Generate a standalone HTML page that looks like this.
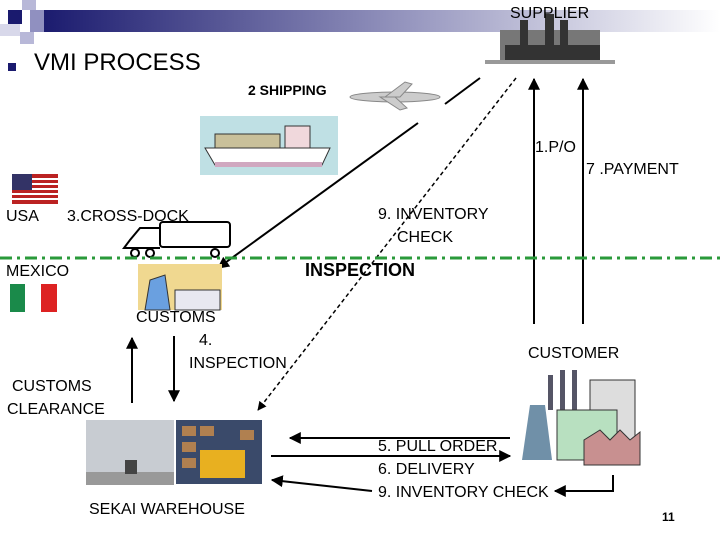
<!DOCTYPE html>
<html><head><meta charset="utf-8"><style>
body{margin:0;background:#fff}
svg{display:block}
text{font-family:"Liberation Sans",sans-serif;fill:#000}
</style></head><body>
<svg width="720" height="540" viewBox="0 0 720 540" xmlns="http://www.w3.org/2000/svg">
<defs>
<linearGradient id="g" x1="0" x2="1"><stop offset="0" stop-color="#1a1a6e"/><stop offset="0.55" stop-color="#9898c0"/><stop offset="1" stop-color="#fff"/></linearGradient>
<marker id="a" viewBox="0 0 10 10" refX="9" refY="5" markerWidth="6" markerHeight="6" orient="auto"><path d="M0,0L10,5L0,10z" fill="#000"/></marker>
</defs>
<rect x="40" y="10" width="680" height="22" fill="url(#g)"/>
<rect x="8" y="10" width="14" height="14" fill="#1a1a6e"/>
<rect x="22" y="0" width="14" height="10" fill="#b8b8d8"/>
<rect x="30" y="10" width="14" height="22" fill="#9090c0"/>
<rect x="20" y="32" width="14" height="12" fill="#b8b8d8"/>
<rect x="0" y="24" width="20" height="12" fill="#d8d8ea"/>
<rect x="8" y="63" width="8" height="8" fill="#1a1a6e"/>
<text x="34" y="70" font-size="24">VMI PROCESS</text>
<g fill="#333"><rect x="500" y="30" width="100" height="32" fill="#777"/><rect x="520" y="20" width="8" height="30"/><rect x="545" y="14" width="9" height="36"/><rect x="560" y="20" width="8" height="30"/><rect x="505" y="45" width="95" height="17"/><rect x="485" y="60" width="130" height="4" fill="#999"/></g>
<text x="510" y="18" font-size="16">SUPPLIER</text>
<text x="248" y="95" font-size="14" font-weight="bold">2 SHIPPING</text>
<g fill="#ccc" stroke="#888" stroke-width="1"><ellipse cx="395" cy="97" rx="45" ry="5"/><path d="M385,97L405,82L412,84L400,97z"/><path d="M380,97L400,110L407,108L395,97z"/></g>
<rect x="200" y="116" width="138" height="59" fill="#bfe0e4"/>
<path d="M205,148L330,148L322,165L215,165z" fill="#fff" stroke="#333"/>
<rect x="215" y="134" width="65" height="14" fill="#c9c09a" stroke="#333"/>
<rect x="285" y="126" width="25" height="22" fill="#f0d8dc" stroke="#333"/>
<rect x="215" y="162" width="107" height="5" fill="#d0a8c0"/>
<line x1="480" y1="78" x2="445" y2="104" stroke="#000" stroke-width="2"/>
<line x1="418" y1="123" x2="218" y2="268" stroke="#000" stroke-width="2" marker-end="url(#a)"/>
<line x1="516" y1="78" x2="258" y2="410" stroke="#000" stroke-width="1.5" stroke-dasharray="4,3" marker-end="url(#a)"/>
<line x1="534" y1="324" x2="534" y2="79" stroke="#000" stroke-width="2" marker-end="url(#a)"/>
<line x1="583" y1="324" x2="583" y2="79" stroke="#000" stroke-width="2" marker-end="url(#a)"/>
<text x="535" y="152" font-size="16">1.P/O</text>
<text x="586" y="174" font-size="16">7 .PAYMENT</text>
<g><rect x="12" y="174" width="46" height="30" fill="#b22"/><g fill="#fff"><rect x="12" y="178" width="46" height="2"/><rect x="12" y="183" width="46" height="2"/><rect x="12" y="188" width="46" height="2"/><rect x="12" y="193" width="46" height="2"/><rect x="12" y="198" width="46" height="2"/></g><rect x="12" y="174" width="20" height="16" fill="#336"/></g>
<text x="6" y="221" font-size="16">USA</text>
<text x="67" y="221" font-size="16">3.CROSS-DOCK</text>
<text x="378" y="219" font-size="16">9. INVENTORY</text>
<text x="397" y="242" font-size="16">CHECK</text>
<g fill="none" stroke="#000" stroke-width="2"><rect x="160" y="222" width="70" height="25" rx="3"/><path d="M160,228L140,228L130,240L124,248L160,248"/><circle cx="135" cy="253" r="4"/><circle cx="150" cy="253" r="4"/><circle cx="215" cy="253" r="4"/></g>
<line x1="0" y1="258" x2="720" y2="258" stroke="#2a9a3a" stroke-width="3" stroke-dasharray="12,5,3,5"/>
<text x="6" y="276" font-size="16">MEXICO</text>
<text x="305" y="276" font-size="18" font-weight="bold">INSPECTION</text>
<rect x="138" y="264" width="84" height="46" fill="#f0d890"/>
<path d="M145,310L150,280L165,275L170,310z" fill="#6aa0e0" stroke="#333"/>
<rect x="175" y="290" width="45" height="20" fill="#e8e8f0" stroke="#333"/>
<rect x="10" y="284" width="15" height="28" fill="#1a8a4a"/><rect x="25" y="284" width="16" height="28" fill="#fff"/><rect x="41" y="284" width="16" height="28" fill="#d22"/>
<text x="136" y="322" font-size="16">CUSTOMS</text>
<text x="199" y="345" font-size="16">4.</text>
<text x="189" y="368" font-size="16">INSPECTION</text>
<line x1="132" y1="403" x2="132" y2="338" stroke="#000" stroke-width="2" marker-end="url(#a)"/>
<line x1="174" y1="336" x2="174" y2="401" stroke="#000" stroke-width="2" marker-end="url(#a)"/>
<text x="12" y="391" font-size="16">CUSTOMS</text>
<text x="7" y="414" font-size="16">CLEARANCE</text>
<text x="528" y="358" font-size="16">CUSTOMER</text>
<rect x="86" y="420" width="88" height="65" fill="#c8ccd2"/><rect x="86" y="472" width="88" height="13" fill="#999"/><rect x="125" y="460" width="12" height="14" fill="#444"/>
<rect x="176" y="420" width="86" height="64" fill="#3a4a6a"/>
<g fill="#b08050"><rect x="182" y="426" width="14" height="10"/><rect x="200" y="426" width="14" height="10"/><rect x="182" y="442" width="14" height="10"/><rect x="182" y="458" width="14" height="10"/><rect x="240" y="430" width="14" height="10"/></g>
<rect x="200" y="450" width="45" height="28" fill="#e8b020"/>
<path d="M522,460L530,405L545,405L552,460z" fill="#7090a8"/>
<rect x="590" y="380" width="45" height="75" fill="#ddd" stroke="#333"/>
<rect x="548" y="375" width="5" height="35" fill="#556"/><rect x="560" y="370" width="5" height="40" fill="#556"/><rect x="572" y="370" width="5" height="40" fill="#556"/>
<rect x="557" y="410" width="60" height="50" fill="#b8e0c0" stroke="#333"/>
<path d="M584,465L584,440L600,430L610,440L620,430L630,440L640,432L640,465z" fill="#c89090" stroke="#333"/>
<line x1="510" y1="438" x2="290" y2="438" stroke="#000" stroke-width="2" marker-end="url(#a)"/>
<line x1="271" y1="456" x2="510" y2="456" stroke="#000" stroke-width="2" marker-end="url(#a)"/>
<text x="378" y="451" font-size="16">5. PULL ORDER</text>
<text x="378" y="474" font-size="16">6. DELIVERY</text>
<text x="378" y="497" font-size="16">9. INVENTORY CHECK</text>
<polyline points="613,475 613,491 555,491" fill="none" stroke="#000" stroke-width="2" marker-end="url(#a)"/>
<line x1="372" y1="491" x2="272" y2="480" stroke="#000" stroke-width="2" marker-end="url(#a)"/>
<text x="89" y="514" font-size="16">SEKAI WAREHOUSE</text>
<text x="662" y="521" font-size="12" font-weight="bold">11</text>
</svg>
</body></html>
